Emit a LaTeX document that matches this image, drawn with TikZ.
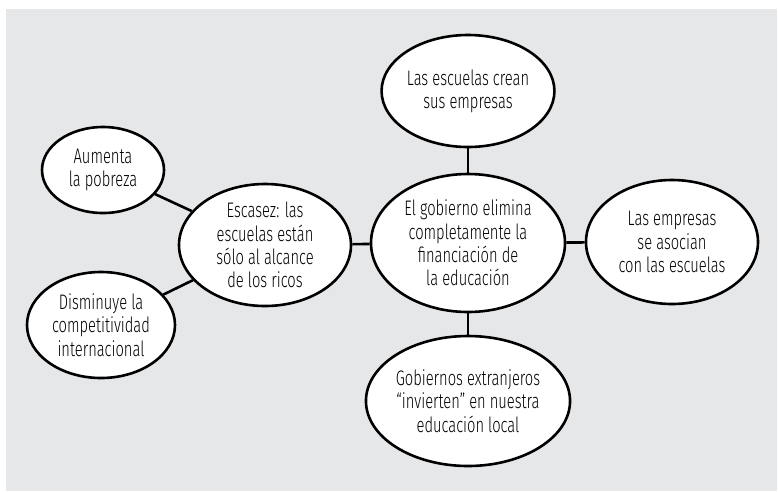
\documentclass[tikz,border=0pt]{standalone}
\usepackage{fontspec}
\setmainfont{Fira Sans Light}[FakeStretch=0.7]
\usetikzlibrary{shapes.geometric}
\definecolor{bggray}{HTML}{E6E7E8}
\tikzset{
  bubble/.style={ellipse, draw=black, line width=2.6pt, fill=white, inner sep=0pt,
    align=center, font=\fontsize{21}{23.3}\selectfont},
  link/.style={line width=2.6pt}
}
\begin{document}
\begin{tikzpicture}[x=1pt,y=-1pt]
\useasboundingbox (0,0) rectangle (778,491);
\fill[white] (0,0) rectangle (778,491);
\fill[bggray] (6,9) rectangle (777,491);
\node[bubble, minimum width=164pt, minimum height=112pt] (top) at (468,91) {Las escuelas crean\\sus empresas};
\node[bubble, minimum width=194pt, minimum height=138pt] (ctr) at (468,243) {El gobierno elimina\\completamente la\\financiación de\\la educación};
\node[bubble, minimum width=172pt, minimum height=124pt] (rgt) at (672,242) {Las empresas\\se asocian\\con las escuelas};
\node[bubble, minimum width=194pt, minimum height=130pt] (bot) at (468,401) {Gobiernos extranjeros\\“invierten” en nuestra\\educación local};
\node[bubble, minimum width=172pt, minimum height=122pt] (esc) at (265,245) {Escasez: las\\escuelas están\\sólo al alcance\\de los ricos};
\node[bubble, minimum width=122pt, minimum height=86pt] (aum) at (103,170) {Aumenta\\la pobreza};
\node[bubble, minimum width=148pt, minimum height=106pt] (dis) at (101,325) {Disminuye la\\competitividad\\internacional};
\draw[link] (top) -- (ctr);
\draw[link] (ctr) -- (rgt);
\draw[link] (ctr) -- (bot);
\draw[link] (esc) -- (ctr);
\draw[link] (aum) -- (esc);
\draw[link] (dis) -- (esc);
\end{tikzpicture}
\end{document}
